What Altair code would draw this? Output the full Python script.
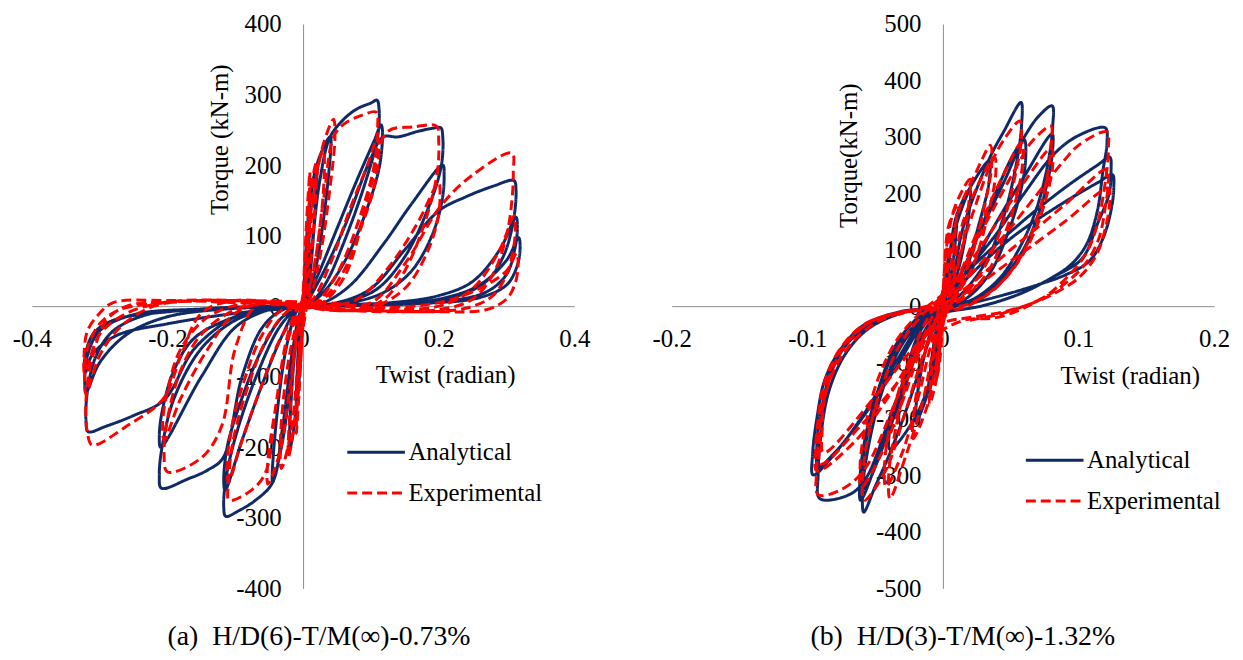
import altair as alt
import pandas as pd

NAVY = "#0f2a66"
RED = "#ff0000"
FONT = "Liberation Serif"
SERIES = ["Analytical", "Experimental"]

# ---------------- Panel (a): H/D(6)-T/M(inf)-0.73% ----------------
a_analytical = [
    [0, 0],
    [0.002, 40], [0.005, 80], [0.004, 40], [0, 0], [-0.002, -40], [-0.005, -80], [-0.004, -40], [0, 0],
    [0.003, 60], [0.007, 120], [0.01, 150], [0.009, 100], [0.004, 20], [0, 0],
    [-0.003, -60], [-0.007, -120], [-0.01, -150], [-0.009, -100], [-0.004, -20], [0, 0],
    [0.005, 80], [0.012, 160], [0.02, 200], [0.018, 140], [0.008, 30], [0, 0],
    [-0.005, -80], [-0.012, -160], [-0.02, -205], [-0.018, -140], [-0.008, -30], [0, 0],
    [0.006, 90], [0.015, 180], [0.03, 225], [0.04, 240], [0.038, 190], [0.02, 60], [0.005, 5],
    [-0.005, -10], [-0.015, -80], [-0.03, -190], [-0.045, -250], [-0.043, -200], [-0.025, -60], [-0.008, -5], [0, 0],
    [0.01, 60], [0.025, 180], [0.04, 240], [0.06, 265], [0.08, 280], [0.1, 288], [0.109, 292],
    [0.112, 280], [0.11, 240], [0.09, 170], [0.06, 90], [0.035, 35], [0.015, 8], [0, 0],
    [-0.015, -60], [-0.03, -170], [-0.045, -250], [-0.07, -275], [-0.095, -290], [-0.114, -298],
    [-0.117, -285], [-0.113, -240], [-0.095, -170], [-0.065, -90], [-0.035, -30], [-0.012, -5], [0, 0],
    [0.02, 40], [0.05, 110], [0.08, 180], [0.105, 235], [0.115, 257], [0.117, 250], [0.113, 200],
    [0.095, 140], [0.065, 70], [0.035, 25], [0.01, 3], [-0.01, -5], [-0.03, -40], [-0.06, -110],
    [-0.09, -190], [-0.115, -261], [-0.117, -250], [-0.112, -200], [-0.09, -130], [-0.06, -60], [-0.03, -15], [0, 0],
    [0.02, 30], [0.06, 110], [0.1, 210], [0.118, 240], [0.14, 240], [0.17, 248], [0.19, 252], [0.203, 253],
    [0.206, 240], [0.204, 200], [0.185, 140], [0.15, 70], [0.11, 25], [0.07, 8], [0.03, 2], [0, 0],
    [-0.03, -5], [-0.06, -30], [-0.09, -100], [-0.118, -215], [-0.14, -232], [-0.17, -245], [-0.209, -258],
    [-0.212, -240], [-0.208, -200], [-0.19, -130], [-0.15, -60], [-0.1, -20], [-0.05, -5], [0, 0],
    [0.03, 5], [0.07, 30], [0.12, 90], [0.16, 145], [0.206, 200], [0.208, 185], [0.205, 150], [0.19, 100],
    [0.16, 50], [0.12, 20], [0.07, 5], [0, 0], [-0.05, -5], [-0.1, -30], [-0.15, -100], [-0.21, -200],
    [-0.212, -185], [-0.208, -150], [-0.19, -90], [-0.16, -45], [-0.1, -15], [-0.05, -4], [0, 0],
    [0.05, 5], [0.1, 25], [0.15, 80], [0.2, 135], [0.24, 155], [0.28, 170], [0.311, 178], [0.314, 165],
    [0.31, 120], [0.295, 70], [0.27, 35], [0.22, 12], [0.15, 4], [0.05, 0], [-0.05, -3], [-0.1, -15],
    [-0.16, -60], [-0.205, -133], [-0.25, -155], [-0.29, -170], [-0.317, -178], [-0.32, -165], [-0.318, -120],
    [-0.305, -70], [-0.28, -35], [-0.23, -12], [-0.15, -4], [-0.05, 0], [0, 0],
    [0.05, 2], [0.13, 5], [0.2, 15], [0.25, 35], [0.29, 80], [0.314, 126], [0.316, 110], [0.312, 80],
    [0.3, 45], [0.27, 20], [0.2, 6], [0.1, 2], [0, 0], [-0.1, -3], [-0.2, -15], [-0.26, -40], [-0.3, -80],
    [-0.32, -122], [-0.322, -105], [-0.318, -70], [-0.3, -35], [-0.25, -12], [-0.15, -4], [-0.05, -1], [0, 0],
    [0.1, 2], [0.2, 10], [0.26, 30], [0.3, 65], [0.318, 97], [0.32, 80], [0.315, 55], [0.3, 30], [0.26, 12],
    [0.18, 4], [0.05, 0], [-0.08, -8], [-0.2, -25], [-0.276, -42], [-0.311, -69], [-0.321, -94],
    [-0.322, -75], [-0.31, -40], [-0.28, -20], [-0.2, -8], [-0.1, -3], [0, 0],
]

a_experimental = [
    [0, 0],
    [0.002, 50], [0.005, 100], [0.004, 60], [0.001, 10], [-0.002, -50], [-0.005, -100], [-0.004, -60], [-0.001, -10],
    [0.003, 80], [0.007, 150], [0.01, 190], [0.009, 150], [0.005, 60], [0, 5],
    [-0.003, -70], [-0.007, -140], [-0.01, -180], [-0.009, -140], [-0.005, -50], [0, -5],
    [0.005, 90], [0.012, 170], [0.02, 205], [0.019, 160], [0.012, 70], [0.004, 10],
    [-0.005, -80], [-0.013, -170], [-0.022, -215], [-0.02, -160], [-0.012, -60], [-0.003, -5],
    [0.006, 80], [0.018, 180], [0.03, 222], [0.031, 180], [0.022, 90], [0.008, 15],
    [-0.006, -70], [-0.018, -180], [-0.032, -230], [-0.033, -180], [-0.022, -80], [-0.006, -8],
    [0.005, 40], [0.015, 150], [0.03, 230], [0.045, 265], [0.047, 240], [0.04, 170], [0.025, 70], [0.01, 10],
    [-0.005, -20], [-0.02, -120], [-0.035, -210], [-0.052, -252], [-0.052, -220], [-0.04, -140], [-0.025, -50], [-0.01, -5],
    [0.01, 30], [0.03, 150], [0.045, 240], [0.06, 258], [0.085, 270], [0.108, 275], [0.11, 255], [0.105, 200],
    [0.085, 130], [0.055, 55], [0.025, 10], [0, -5], [-0.02, -40], [-0.04, -140], [-0.055, -235], [-0.075, -260],
    [-0.109, -275], [-0.11, -250], [-0.103, -190], [-0.08, -110], [-0.05, -40], [-0.02, -5],
    [0.01, 5], [0.04, 60], [0.07, 140], [0.095, 200], [0.11, 240], [0.112, 220], [0.105, 170], [0.085, 110],
    [0.06, 50], [0.03, 10], [0, -5], [-0.03, -40], [-0.06, -110], [-0.09, -190], [-0.11, -250], [-0.112, -225],
    [-0.105, -170], [-0.085, -100], [-0.06, -40], [-0.03, -5],
    [0.02, 0], [0.06, 40], [0.1, 170], [0.124, 247], [0.162, 254], [0.197, 255], [0.2, 235], [0.198, 190],
    [0.18, 120], [0.15, 50], [0.12, 10], [0.08, -5], [0.03, -5], [-0.03, 5], [-0.07, 0], [-0.1, -60],
    [-0.12, -170], [-0.15, -215], [-0.2, -235], [-0.205, -210], [-0.2, -160], [-0.18, -90], [-0.15, -40],
    [-0.1, -5], [-0.05, 5],
    [0.03, 0], [0.08, 10], [0.13, 60], [0.17, 120], [0.2, 175], [0.202, 155], [0.198, 120], [0.18, 70],
    [0.15, 25], [0.1, -3], [0.05, -6], [0, 0], [-0.05, 5], [-0.1, -10], [-0.14, -60], [-0.18, -130],
    [-0.205, -190], [-0.207, -165], [-0.2, -120], [-0.18, -60], [-0.14, -15], [-0.08, 5],
    [0.03, 5], [0.1, 5], [0.15, 60], [0.203, 142], [0.25, 186], [0.308, 217], [0.31, 190], [0.308, 150],
    [0.3, 100], [0.28, 45], [0.25, 10], [0.2, -5], [0.1, -6], [0, 0], [-0.1, 8], [-0.15, -10], [-0.18, -70],
    [-0.206, -131], [-0.26, -170], [-0.311, -197], [-0.318, -180], [-0.32, -130], [-0.31, -70], [-0.29, -20],
    [-0.26, 0], [-0.2, 6], [-0.1, 8],
    [0, 5], [0.1, -3], [0.2, 0], [0.25, 25], [0.29, 80], [0.311, 128], [0.313, 110], [0.31, 80], [0.3, 45],
    [0.28, 15], [0.24, -3], [0.15, -8], [0.05, -5], [-0.05, 5], [-0.15, 8], [-0.22, 0], [-0.27, -30],
    [-0.3, -70], [-0.32, -125], [-0.322, -100], [-0.318, -60], [-0.3, -25], [-0.27, -5], [-0.2, 5], [-0.1, 8],
    [0, 5], [0.1, -2], [0.2, 5], [0.26, 25], [0.3, 50], [0.315, 75], [0.317, 55], [0.312, 30], [0.3, 10],
    [0.27, -5], [0.2, -8], [0.1, -6], [0, 0], [-0.1, 8], [-0.2, 6], [-0.26, -10], [-0.3, -40], [-0.322, -95],
    [-0.323, -70], [-0.318, -35], [-0.3, -10], [-0.28, 5], [-0.2, 8], [-0.1, 5], [0, 0],
]

# ---------------- Panel (b): H/D(3)-T/M(inf)-1.32% ----------------
b_analytical = [
    [0, 0],
    [0.002, 50], [0.005, 100], [0.004, 60], [0.001, 10], [-0.002, -50], [-0.005, -100], [-0.004, -60], [-0.001, -10], [0, 0],
    [0.004, 80], [0.01, 150], [0.009, 110], [0.004, 30], [0, 0], [-0.004, -80], [-0.01, -150], [-0.009, -110], [-0.004, -30], [0, 0],
    [0.004, 80], [0.012, 160], [0.02, 205], [0.019, 160], [0.012, 70], [0.004, 10],
    [-0.004, -60], [-0.012, -160], [-0.02, -205], [-0.019, -160], [-0.012, -70], [-0.004, -10],
    [0.003, 60], [0.01, 160], [0.02, 210], [0.034, 257], [0.034, 220], [0.026, 140], [0.015, 50], [0.004, 5],
    [-0.003, -40], [-0.012, -150], [-0.025, -215], [-0.039, -254], [-0.039, -215], [-0.03, -140], [-0.018, -50], [-0.005, -5],
    [0.005, 30], [0.015, 140], [0.034, 260], [0.045, 310], [0.0576, 361], [0.058, 320], [0.054, 250], [0.045, 160],
    [0.032, 80], [0.015, 25], [0, -5], [-0.01, -60], [-0.025, -170], [-0.039, -260], [-0.05, -320], [-0.0584, -365],
    [-0.059, -320], [-0.055, -250], [-0.046, -160], [-0.033, -80], [-0.016, -25], [0, 0],
    [0.01, 40], [0.025, 120], [0.045, 220], [0.06, 295], [0.061, 260], [0.057, 200], [0.048, 130], [0.035, 60],
    [0.018, 15], [0, -5], [-0.015, -60], [-0.03, -150], [-0.045, -250], [-0.0607, -344], [-0.061, -300],
    [-0.057, -230], [-0.048, -150], [-0.035, -70], [-0.018, -20], [0, 0],
    [0.01, 40], [0.03, 150], [0.05, 260], [0.06, 300], [0.07, 335], [0.0805, 355], [0.081, 320], [0.078, 260],
    [0.07, 180], [0.058, 110], [0.042, 50], [0.022, 12], [0, -5], [-0.015, -60], [-0.035, -190], [-0.058, -323],
    [-0.059, -280], [-0.054, -210], [-0.045, -130], [-0.03, -60], [-0.012, -15], [0, 0],
    [0.015, 40], [0.035, 130], [0.06, 230], [0.0805, 305], [0.081, 280], [0.078, 230], [0.07, 160], [0.058, 95],
    [0.042, 45], [0.022, 10], [0, -5], [-0.015, -50], [-0.035, -170], [-0.058, -310], [-0.07, -335], [-0.0908, -341],
    [-0.092, -300], [-0.09, -230], [-0.084, -150], [-0.072, -85], [-0.055, -40], [-0.03, -12], [0, 0],
    [0.014, 50], [0.04, 130], [0.06, 200], [0.0825, 271], [0.0997, 302], [0.1197, 316], [0.121, 290], [0.118, 240],
    [0.114, 170], [0.106, 110], [0.095, 75], [0.08, 50], [0.057, 22], [0.028, 0], [0, -10], [-0.012, -19],
    [-0.035, -100], [-0.058, -190], [-0.081, -265], [-0.0957, -299], [-0.096, -260], [-0.093, -200], [-0.087, -130],
    [-0.075, -75], [-0.058, -33], [-0.03, -9], [0, 0],
    [0.014, 50], [0.0567, 146], [0.09, 210], [0.114, 250], [0.123, 264], [0.124, 240], [0.1226, 200], [0.114, 146],
    [0.1025, 84], [0.08, 50], [0.0567, 22], [0.028, 0], [0, -12], [-0.012, -25], [-0.035, -110], [-0.06, -200],
    [-0.08, -260], [-0.092, -285], [-0.093, -250], [-0.09, -190], [-0.083, -120], [-0.07, -65], [-0.05, -28],
    [-0.025, -8], [0, 0],
    [0.014, 40], [0.05, 120], [0.09, 185], [0.115, 220], [0.125, 233], [0.126, 210], [0.124, 170], [0.118, 120],
    [0.108, 80], [0.09, 55], [0.07, 38], [0.045, 20], [0.02, 5], [0, -5],
]

b_experimental = [
    [0, 0],
    [0.001, 60], [0.003, 110], [0.005, 130], [0.004, 80], [0.001, 20],
    [-0.001, -60], [-0.003, -110], [-0.005, -130], [-0.004, -80], [-0.001, -20],
    [0.001, 60], [0.004, 140], [0.01, 175], [0.009, 130], [0.004, 40], [0, 0],
    [-0.004, -120], [-0.01, -175], [-0.009, -130], [-0.004, -40], [0, 0],
    [0.002, 80], [0.008, 170], [0.02, 225], [0.019, 180], [0.013, 90], [0.004, 15],
    [-0.004, -90], [-0.012, -180], [-0.022, -235], [-0.021, -180], [-0.014, -90], [-0.004, -15],
    [0.003, 60], [0.012, 170], [0.025, 240], [0.035, 285], [0.036, 250], [0.03, 170], [0.02, 80], [0.008, 15],
    [-0.005, -60], [-0.015, -170], [-0.028, -270], [-0.039, -341], [-0.04, -300], [-0.035, -220], [-0.025, -120], [-0.01, -30],
    [0.005, 50], [0.015, 150], [0.028, 225], [0.038, 265], [0.039, 235], [0.033, 160], [0.022, 70], [0.008, 10],
    [-0.006, -50], [-0.018, -160], [-0.03, -260], [-0.042, -320], [-0.043, -280], [-0.038, -200], [-0.027, -110], [-0.012, -25],
    [0.005, 40], [0.02, 150], [0.035, 250], [0.045, 295], [0.0567, 328], [0.058, 300], [0.054, 240], [0.046, 160],
    [0.033, 80], [0.016, 20], [0, -10], [-0.012, -70], [-0.028, -190], [-0.042, -290], [-0.058, -344],
    [-0.059, -300], [-0.055, -230], [-0.046, -150], [-0.032, -70], [-0.015, -15],
    [0.008, 40], [0.025, 130], [0.042, 220], [0.058, 290], [0.059, 260], [0.055, 200], [0.046, 130], [0.033, 60],
    [0.016, 15], [0, -10], [-0.015, -70], [-0.03, -170], [-0.045, -260], [-0.06, -320], [-0.061, -280],
    [-0.057, -210], [-0.048, -130], [-0.034, -60], [-0.016, -10],
    [0.008, 40], [0.03, 140], [0.055, 250], [0.065, 290], [0.0796, 319], [0.08, 290], [0.077, 230], [0.07, 160],
    [0.058, 90], [0.04, 35], [0.02, 5], [0, -10], [-0.015, -60], [-0.035, -170], [-0.058, -290], [-0.075, -325],
    [-0.092, -334], [-0.093, -290], [-0.091, -220], [-0.086, -150], [-0.075, -80], [-0.055, -30], [-0.03, -10], [0, 0],
    [0.01, 40], [0.035, 130], [0.06, 220], [0.08, 280], [0.081, 250], [0.077, 200], [0.069, 140], [0.056, 80],
    [0.038, 30], [0.018, 0], [0, -15], [-0.015, -60], [-0.04, -160], [-0.065, -240], [-0.093, -292],
    [-0.094, -260], [-0.092, -200], [-0.088, -140], [-0.077, -80], [-0.058, -32], [-0.03, -10], [-0.006, 1],
    [0.01, 30], [0.04, 110], [0.07, 200], [0.09, 260], [0.1, 285], [0.121, 309], [0.122, 280], [0.121, 243],
    [0.114, 146], [0.105, 91], [0.091, 50], [0.074, 15], [0.042, -19], [0.014, -26], [-0.01, -60], [-0.035, -140],
    [-0.06, -210], [-0.09, -280], [-0.091, -240], [-0.089, -158], [-0.075, -75], [-0.052, -26], [-0.029, -12], [-0.006, 1],
    [0.01, 20], [0.05, 100], [0.09, 180], [0.121, 243], [0.122, 220], [0.12, 180], [0.115, 120], [0.105, 75],
    [0.09, 40], [0.07, 10], [0.045, -10], [0.02, -20], [0, -30], [-0.02, -70], [-0.05, -160], [-0.088, -260],
    [-0.089, -220], [-0.086, -150], [-0.072, -80], [-0.05, -30], [-0.02, -5],
    [0.01, 15], [0.05, 80], [0.09, 150], [0.122, 209], [0.123, 185], [0.12, 140], [0.113, 90], [0.1, 50],
    [0.08, 20], [0.06, 0], [0.04, -15], [0.02, -25],
]

# axis ticks
a_x_ticks = [-0.4, -0.2, 0, 0.2, 0.4]
a_y_ticks = [-400, -300, -200, -100, 0, 100, 200, 300, 400]
b_x_ticks = [-0.2, -0.1, 0, 0.1, 0.2]
b_y_ticks = [-500, -400, -300, -200, -100, 0, 100, 200, 300, 400, 500]


def make_df(ana, exp):
    rows = []
    for name, pts in ((SERIES[0], ana), (SERIES[1], exp)):
        for i, (x, y) in enumerate(pts):
            rows.append({"x": x, "y": y, "series": name, "order": i})
    return pd.DataFrame(rows)


W, H = 546, 568


def panel(df, xticks, yticks, ytitle, ytx, yty, xtx, xty, lx, ly, title, tdx):
    leg = alt.Legend(
        title=None, orient="none", legendX=lx, legendY=ly, symbolType="stroke",
        symbolSize=3364, symbolStrokeWidth=3, labelFont=FONT, labelFontSize=25,
        labelColor="black", labelOffset=2, clipHeight=26, rowPadding=15, padding=0,
        symbolOffset=0,
    )
    xaxis = alt.Axis(
        values=xticks, labelExpr="'' + datum.value", offset=-H / 2, grid=False, ticks=False,
        tickSize=0, domainColor="#8c8c8c", domainWidth=1, labelFont=FONT, labelFontSize=25,
        labelColor="black", labelPadding=21, labelFlush=False, labelOverlap=False,
        title="Twist (radian)", titleFont=FONT, titleFontSize=25, titleFontWeight="normal",
        titleColor="black", titleX=xtx, titleY=xty, titleBaseline="middle", titleAlign="center",
    )
    yaxis = alt.Axis(
        values=yticks, labelExpr="'' + datum.value", offset=-W / 2, grid=False, ticks=False,
        tickSize=0, domainColor="#8c8c8c", domainWidth=1, labelFont=FONT, labelFontSize=25,
        labelColor="black", labelPadding=22, labelFlush=False, labelOverlap=False,
        title=ytitle, titleFont=FONT, titleFontSize=25, titleFontWeight="normal",
        titleColor="black", titleX=ytx, titleY=yty, titleBaseline="middle", titleAlign="center",
        titleAngle=270,
    )
    return alt.Chart(df).mark_line(strokeWidth=3, interpolate="catmull-rom").encode(
        x=alt.X("x:Q", scale=alt.Scale(domain=[xticks[0], xticks[-1]], nice=False, zero=False), axis=xaxis),
        y=alt.Y("y:Q", scale=alt.Scale(domain=[yticks[0], yticks[-1]], nice=False, zero=False), axis=yaxis),
        color=alt.Color("series:N", scale=alt.Scale(domain=SERIES, range=[NAVY, RED]), legend=leg),
        strokeDash=alt.StrokeDash("series:N", scale=alt.Scale(domain=SERIES, range=[[1, 0], [10, 5]]), legend=leg),
        order=alt.Order("order:Q"),
    ).properties(
        width=W, height=H,
        title=alt.TitleParams(text=title, orient="bottom", anchor="middle", frame="group", font=FONT,
                              fontSize=28, fontWeight="normal", color="black", dx=tdx, offset=22),
    )


pa = panel(make_df(a_analytical, a_experimental), a_x_ticks, a_y_ticks, "Torque (kN-m)",
           -84, 116, 416, 69, 316, 418, "(a) \u00a0H/D(6)-T/M(\u221e)-0.73%", 16)
pb = panel(make_df(b_analytical, b_experimental), b_x_ticks, b_y_ticks, "Torque(kN-m)",
           -95, 132, 461, 70, 355, 426, "(b) \u00a0H/D(3)-T/M(\u221e)-1.32%", 20)

chart = alt.hconcat(pa, pb, spacing=62).resolve_scale(
    color="independent", strokeDash="independent"
).properties(
    padding={"left": 4, "top": 2, "right": 5, "bottom": 5}, background="white"
).configure(
    font=FONT
).configure_axis(
    labelFont=FONT, titleFont=FONT
).configure_legend(
    labelFont=FONT
).configure_title(
    font=FONT
).configure_view(stroke=None)

chart.save("out.html", embed_options={"renderer": "svg", "actions": False})
